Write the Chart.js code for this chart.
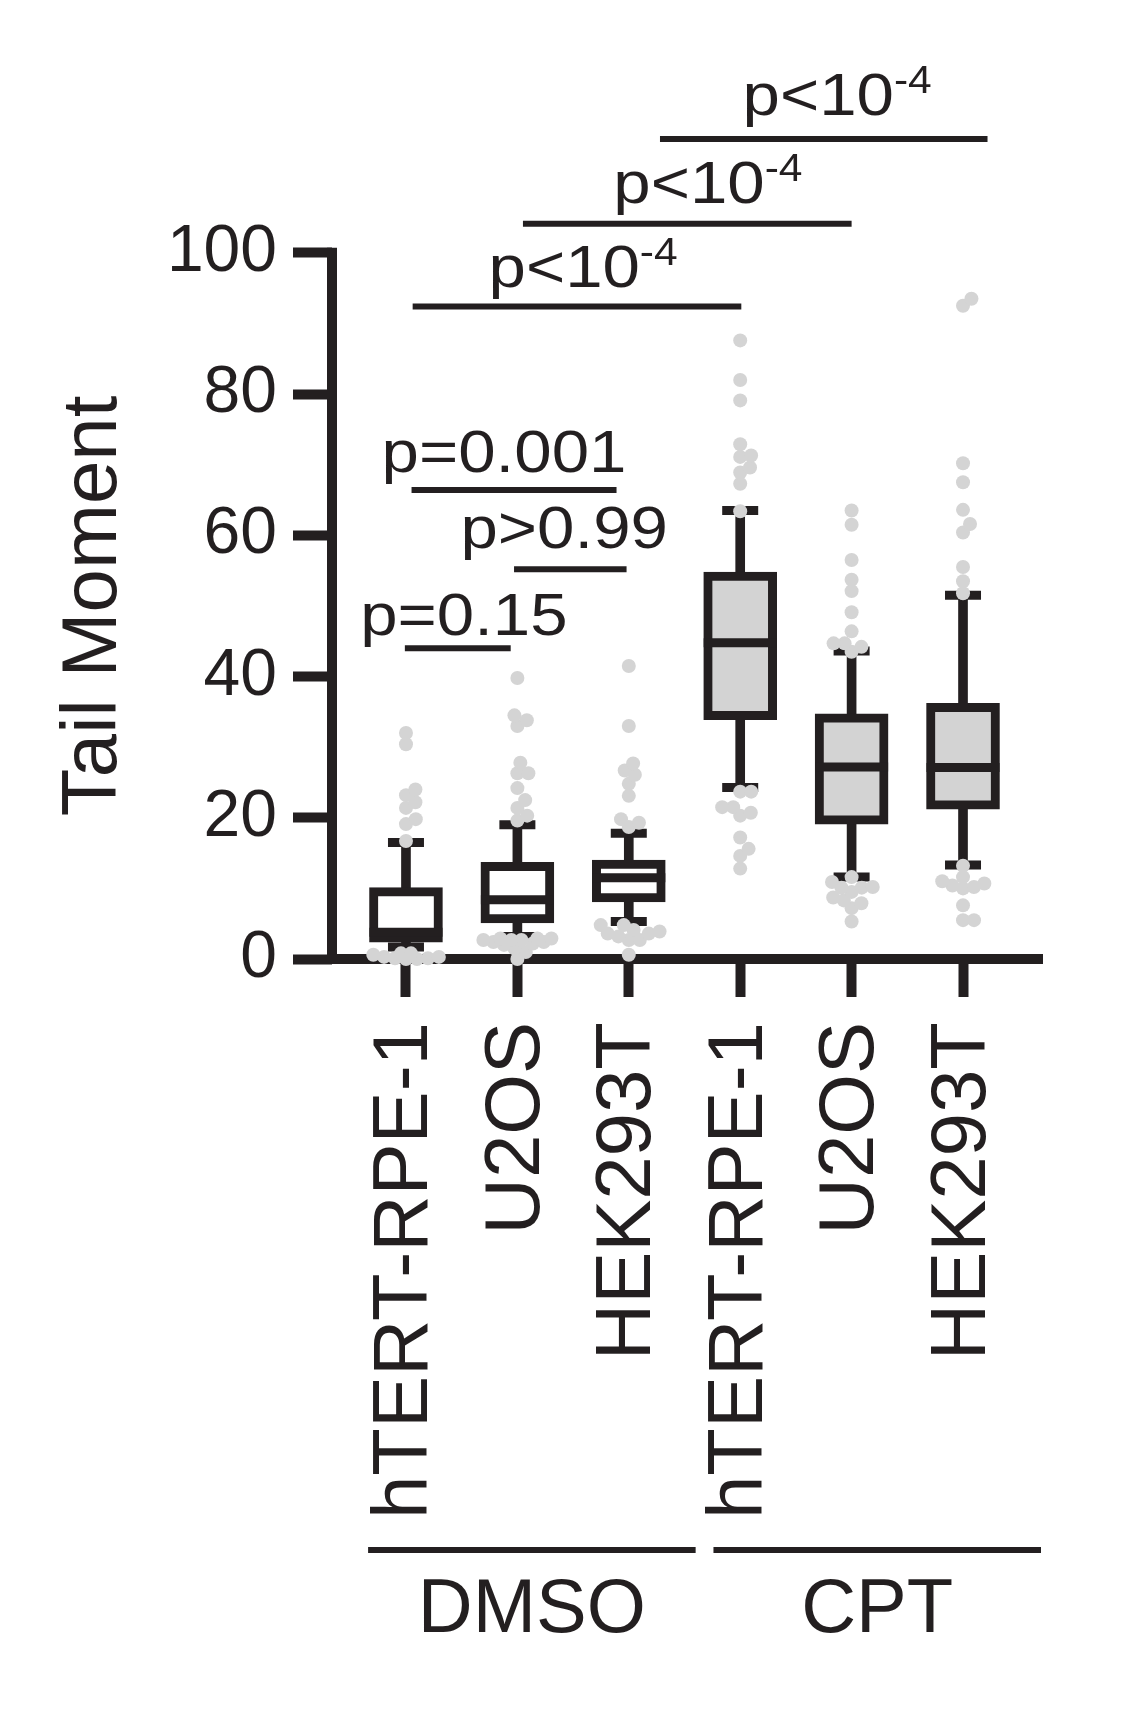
<!DOCTYPE html>
<html>
<head>
<meta charset="utf-8">
<script src="https://cdn.jsdelivr.net/npm/chart.js@4.4.1/dist/chart.umd.min.js"></script>
<style>
  html, body { margin: 0; padding: 0; background: #fff; }
</style>
</head>
<body>
<canvas id="myChart" width="1148" height="1732"></canvas>
<script>
// cell lines, left to right
const categories = ['hTERT-RPE-1', 'U2OS', 'HEK293T', 'hTERT-RPE-1', 'U2OS', 'HEK293T'];
const treatments = ['DMSO', 'CPT'];
const treatmentOf = [0, 0, 0, 1, 1, 1];

// box plot summary (10-90 percentile whiskers)
const whiskerLow  = [1.7, 3.2, 5.3, 24.3, 11.6, 13.3];
const q1          = [2.4, 5.1, 8.1, 33.9, 19.1, 21.2];
const median      = [3.8, 8.4, 11.5, 44.8, 27.2, 27.1];
const q3          = [10.1, 13.7, 14.0, 54.8, 34.7, 36.2];
const whiskerHigh = [16.5, 19.0, 17.8, 63.5, 43.6, 51.5];

// points outside the whiskers
const dotsRpeDmso = [32.0, 30.4, 24.0, 23.2, 22.2, 21.4, 19.8, 19.1, 16.7,
  0.1, 0.8, 0.3, 0.6, 0.0, 0.8, 0.1, 0.0, 0.3];
const dotsU2osDmso = [39.8, 34.5, 33.8, 33.0, 27.8, 26.3, 26.3, 24.2, 22.5, 21.4, 20.3, 19.6,
  2.9, 2.7, 2.9, 2.4, 2.7, 2.2, 2.4, 2.7, 2.9, 1.5, 2.0, 1.0, 0.0];
const dotsHekDmso = [41.5, 33.0, 27.7, 26.7, 26.1, 24.8, 23.1, 19.8, 19.3, 18.7,
  4.8, 4.8, 3.2, 3.6, 2.7, 4.1, 2.7, 3.6, 3.9, 0.6];
const dotsRpeCpt = [87.6, 82.0, 79.1, 72.9, 71.3, 71.1, 69.6, 68.9, 67.3, 63.4,
  23.7, 23.7, 21.5, 21.5, 20.3, 20.7, 17.2, 15.6, 14.6, 12.8];
const dotsU2osCpt = [63.5, 61.5, 56.5, 53.7, 52.1, 49.1, 46.4, 44.2, 44.7, 43.5, 44.7,
  11.6, 10.1, 10.9, 9.5, 7.9, 10.2, 8.7, 7.2, 10.1, 8.3, 5.3];
const dotsHekCpt = [93.5, 92.5, 70.2, 67.5, 63.6, 61.6, 60.4, 55.5, 53.5, 51.8,
  13.2, 11.6, 11.0, 10.4, 10.7, 10.2, 10.0, 7.6, 5.5, 5.5];
const dotGroups = [dotsRpeDmso, dotsU2osDmso, dotsHekDmso, dotsRpeCpt, dotsU2osCpt, dotsHekCpt];

const yTicks = [0, 20, 40, 60, 80, 100];
const yTitle = 'Tail Moment';

// significance bars
const pLabels = ['p=0.15', 'p>0.99', 'p=0.001', 'p<10^-4', 'p<10^-4', 'p<10^-4'];
const pFrom  = [-0.01, 0.97, 0.05, 0.06, 1.05, 2.28];
const pTo    = [0.94, 1.98, 1.89, 3.01, 4.00, 5.22];
const pLevel = [44.0, 55.2, 66.4, 92.4, 104.1, 116.1];

// ---- layout ----
const INK = '#231f20';
const DOT = '#d4d4d4';
const BOX_FILL = ['#ffffff', '#d3d3d3'];
const FONT = '"Liberation Sans", Arial, Helvetica, sans-serif';
const W = 1148, H = 1732;
const AREA = { left: 332, right: 1042, top: 0, bottom: 959 };
const X_MIN = -0.664, X_MAX = 5.709, Y_MAX = 135.8;
const pxPerX = (AREA.right - AREA.left) / (X_MAX - X_MIN);
const pxPerY = (AREA.bottom - AREA.top) / Y_MAX;

// text placement for the p values (centre x, baseline y in data units)
const pTextX = [0.52, 1.42, 0.88, 1.59, 2.71, 3.87];
const pTextY = [45.9, 58.2, 69.0, 95.2, 107.0, 119.5];
const bracketFrom = [-0.34, 2.76];
const bracketTo = [2.60, 5.70];

Chart.defaults.font.family = FONT;
Chart.defaults.color = INK;

// width-limited beeswarm so the dots spread a little sideways
const DOT_GAP = 11;
const SWARM_HALF = 34;
function swarm(values, centre) {
  const placed = [];
  const sorted = values.slice().sort((a, b) => a - b);
  const minDist = (c, py) => placed.reduce((m, p) => Math.min(m, Math.hypot(p.px - c, p.py - py)), Infinity);
  return sorted.map(v => {
    const py = v * pxPerY;
    const cands = [0];
    placed.forEach(p => {
      const dy = Math.abs(p.py - py);
      if (dy < DOT_GAP) {
        const dx = Math.sqrt(DOT_GAP * DOT_GAP - dy * dy);
        cands.push(p.px + dx, p.px - dx);
      }
    });
    const inside = cands.filter(c => Math.abs(c) <= SWARM_HALF).sort((a, b) => Math.abs(a) - Math.abs(b));
    let px = inside.find(c => minDist(c, py) >= DOT_GAP - 0.05);
    if (px === undefined) {
      let best = -1;
      for (let c = -SWARM_HALF; c <= SWARM_HALF; c += 1) {
        const d = minDist(c, py);
        if (d > best) { best = d; px = c; }
      }
    }
    placed.push({ px, py });
    return { x: centre + px / pxPerX, y: v };
  });
}

const dots = [];
dotGroups.forEach((vals, i) => dots.push(...swarm(vals, i)));

const boxes = categories.map((c, i) => ({ x: i, y: [q1[i], q3[i]] }));
const whiskers = categories.map((c, i) => ({ x: i, y: [whiskerLow[i], whiskerHigh[i]] }));
const caps = [];
categories.forEach((c, i) => {
  caps.push({ x: i, y: whiskerLow[i] }, { x: i, y: whiskerHigh[i] });
});
const medians = categories.map((c, i) => ({ x: i, y: median[i] }));

const pLines = pLabels.map((l, i) => ({
  type: 'line',
  data: [{ x: pFrom[i], y: pLevel[i] }, { x: pTo[i], y: pLevel[i] }],
  borderColor: INK,
  borderWidth: 6,
  pointRadius: 0,
  clip: false,
  order: 5
}));

const textPlugin = {
  id: 'textPlugin',
  afterDatasetsDraw(chart) {
    const { ctx, scales: { x, y }, chartArea } = chart;
    const STRETCH = 1.12;
    ctx.save();
    ctx.fillStyle = INK;
    ctx.textBaseline = 'alphabetic';
    ctx.textAlign = 'left';
    pLabels.forEach((label, i) => {
      const parts = label.split('^');
      const main = parts[0], sup = parts[1];
      ctx.font = '60px ' + FONT;
      const wMain = ctx.measureText(main).width;
      ctx.font = '38px ' + FONT;
      const wSup = sup ? ctx.measureText(sup).width : 0;
      const total = (wMain + wSup) * STRETCH;
      const cx = x.getPixelForValue(pTextX[i]);
      const by = y.getPixelForValue(pTextY[i]);
      ctx.save();
      ctx.translate(cx - total / 2, by);
      ctx.scale(STRETCH, 1);
      ctx.font = '60px ' + FONT;
      ctx.fillText(main, 0, 0);
      if (sup) {
        ctx.font = '38px ' + FONT;
        ctx.fillText(sup, wMain, -22);
      }
      ctx.restore();
    });

    // y axis title, centred on the 0-100 part of the axis
    ctx.save();
    ctx.translate(94, (y.getPixelForValue(yTicks[0]) + y.getPixelForValue(yTicks[yTicks.length - 1])) / 2);
    ctx.rotate(-Math.PI / 2);
    ctx.textAlign = 'center';
    ctx.textBaseline = 'middle';
    ctx.font = '78px ' + FONT;
    ctx.fillText(yTitle, 0, 0);
    ctx.restore();

    // treatment brackets under the cell line names
    ctx.strokeStyle = INK;
    ctx.lineWidth = 6;
    ctx.font = '76px ' + FONT;
    ctx.textAlign = 'center';
    treatments.forEach((t, k) => {
      const x1 = x.getPixelForValue(bracketFrom[k]);
      const x2 = x.getPixelForValue(bracketTo[k]);
      const ly = chartArea.bottom + 591;
      ctx.beginPath();
      ctx.moveTo(x1, ly);
      ctx.lineTo(x2, ly);
      ctx.stroke();
      ctx.fillText(t, (x1 + x2) / 2, chartArea.bottom + 673);
    });
    ctx.restore();
  }
};

const noPadding = s => {
  s.paddingTop = 0; s.paddingBottom = 0; s.paddingLeft = 0; s.paddingRight = 0;
};

const config = {
  type: 'bar',
  data: {
    datasets: [
      {
        type: 'scatter',
        data: dots,
        pointRadius: 7,
        pointBackgroundColor: DOT,
        pointBorderWidth: 0,
        clip: false,
        order: 0
      },
      {
        type: 'scatter',
        data: caps,
        pointStyle: 'line',
        pointRadius: 18,
        pointBorderWidth: 9,
        pointBorderColor: INK,
        clip: false,
        order: 1
      },
      {
        type: 'scatter',
        data: medians,
        pointStyle: 'line',
        pointRadius: 36.5,
        pointBorderWidth: 9,
        pointBorderColor: INK,
        clip: false,
        order: 2
      },
      {
        data: boxes,
        backgroundColor: treatmentOf.map(t => BOX_FILL[t]),
        borderColor: INK,
        borderWidth: 9,
        borderSkipped: false,
        barThickness: 73,
        grouped: false,
        clip: false,
        order: 3
      },
      {
        data: whiskers,
        backgroundColor: INK,
        borderWidth: 0,
        barThickness: 9,
        grouped: false,
        clip: false,
        order: 4
      },
      ...pLines,
      {
        // y axis line, only from 0 to 100
        type: 'line',
        data: [{ x: X_MIN, y: 0 }, { x: X_MIN, y: 100 }],
        borderColor: INK,
        borderWidth: 10,
        borderCapStyle: 'square',
        pointRadius: 0,
        clip: false,
        order: 6
      }
    ]
  },
  options: {
    responsive: false,
    devicePixelRatio: 1,
    animation: false,
    events: [],
    layout: {
      autoPadding: false,
      padding: { left: 0, top: AREA.top, right: W - AREA.right, bottom: 0 }
    },
    plugins: {
      legend: { display: false },
      tooltip: { enabled: false }
    },
    scales: {
      x: {
        type: 'linear',
        min: X_MIN,
        max: X_MAX,
        offset: false,
        afterBuildTicks: s => { s.ticks = categories.map((c, i) => ({ value: i })); },
        afterFit: s => { s.height = H - AREA.bottom; noPadding(s); },
        grid: { offset: false, drawOnChartArea: false, drawTicks: true, tickLength: 38, tickWidth: 10, tickColor: INK },
        border: { display: true, width: 10, color: INK },
        ticks: {
          autoSkip: false,
          minRotation: 90,
          maxRotation: 90,
          padding: 25,
          color: INK,
          font: { size: 78 },
          callback: v => categories[v]
        }
      },
      y: {
        type: 'linear',
        min: 0,
        max: Y_MAX,
        afterBuildTicks: s => { s.ticks = yTicks.map(v => ({ value: v })); },
        afterFit: s => { s.width = AREA.left; noPadding(s); },
        grid: { offset: false, drawOnChartArea: false, drawTicks: true, tickLength: 39, tickWidth: 10, tickColor: INK },
        border: { display: false },
        ticks: { padding: 16, color: INK, font: { size: 66 } },
        title: { display: false }
      }
    }
  },
  plugins: [textPlugin]
};

const myChart = new Chart(document.getElementById('myChart'), config);
</script>
</body>
</html>
